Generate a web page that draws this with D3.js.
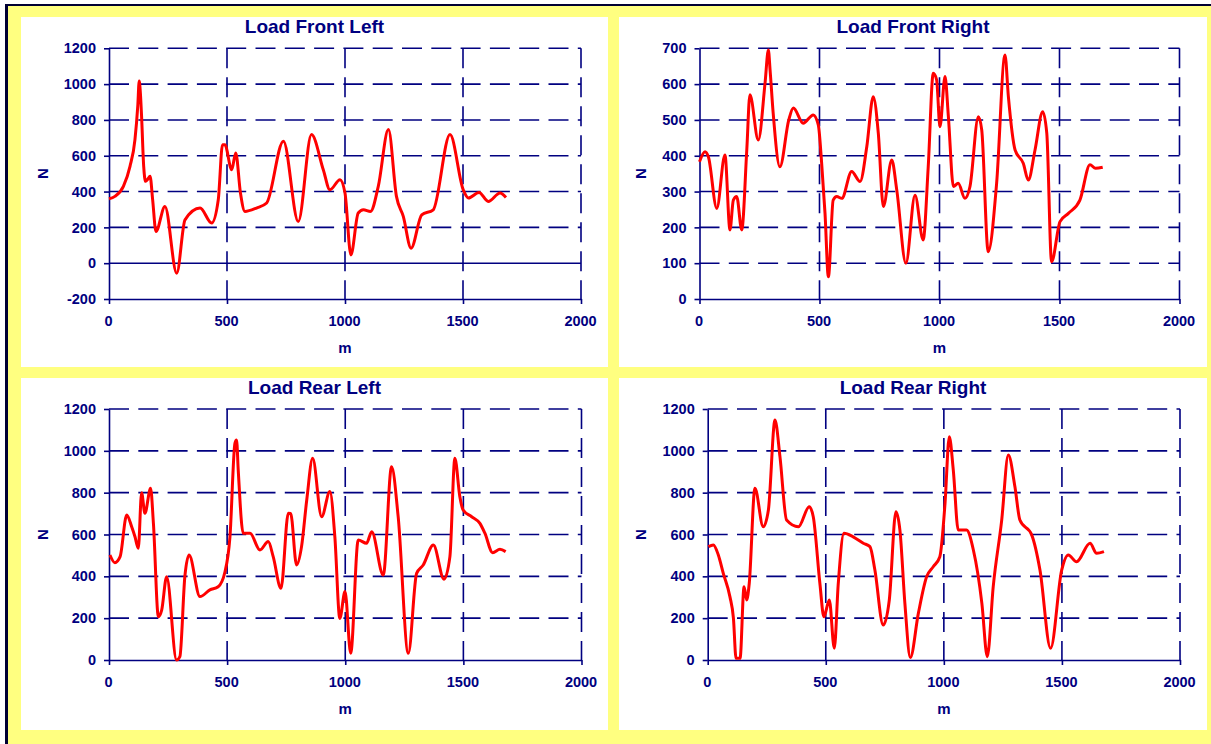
<!DOCTYPE html>
<html>
<head>
<meta charset="utf-8">
<script src="https://cdn.jsdelivr.net/npm/d3@7"></script>
<style>
  body { margin: 0; background: #ffffff; }
  text { font-family: "Liberation Sans", Arial, sans-serif; font-weight: bold; fill: #000080; }
</style>
</head>
<body>
<script>
/* ---- data (distance m, load N) ---- */
var titles = ["Load Front Left", "Load Front Right", "Load Rear Left", "Load Rear Right"];
var xTicks = [0, 500, 1000, 1500, 2000];

var frontLeftTicks = [-200, 0, 200, 400, 600, 800, 1000, 1200];
var frontRightTicks = [0, 100, 200, 300, 400, 500, 600, 700];
var rearLeftTicks = [0, 200, 400, 600, 800, 1000, 1200];
var rearRightTicks = [0, 200, 400, 600, 800, 1000, 1200];

var frontLeftDist = [0, 25, 61, 89, 110, 122, 128, 133, 138, 147, 155, 165, 174, 185, 199, 237, 287, 322, 386, 435, 463, 481, 491, 520, 537, 557, 576, 625, 668, 739, 802, 858, 908, 936, 979, 1000, 1025, 1056, 1078, 1108, 1141, 1184, 1218, 1247, 1280, 1325, 1374, 1445, 1501, 1523, 1568, 1607, 1657, 1682];
var frontLeftLoad = [360, 373, 429, 541, 690, 880, 1017, 950, 821, 541, 457, 470, 485, 354, 177, 317, -56, 242, 308, 224, 354, 662, 662, 522, 616, 392, 289, 308, 336, 681, 233, 718, 522, 410, 466, 392, 46, 280, 298, 289, 429, 746, 373, 261, 84, 270, 298, 718, 410, 364, 395, 345, 392, 367];

var frontRightDist = [0, 23, 37, 72, 106, 127, 141, 155, 176, 197, 210, 245, 273, 287, 294, 307, 335, 372, 391, 432, 474, 495, 509, 523, 537, 557, 572, 593, 634, 669, 697, 724, 745, 766, 801, 822, 860, 898, 932, 953, 974, 988, 1002, 1023, 1037, 1058, 1078, 1106, 1127, 1162, 1176, 1203, 1238, 1273, 1287, 1315, 1349, 1370, 1398, 1430, 1447, 1467, 1502, 1537, 1585, 1627, 1650, 1680];
var frontRightLoad = [383, 411, 397, 253, 402, 193, 276, 286, 193, 416, 570, 444, 602, 695, 640, 519, 369, 500, 533, 491, 514, 486, 379, 239, 62, 276, 286, 281, 356, 328, 425, 565, 463, 258, 388, 304, 100, 290, 165, 369, 630, 612, 481, 621, 509, 314, 323, 281, 314, 509, 472, 132, 323, 681, 565, 416, 379, 332, 416, 523, 463, 104, 216, 239, 276, 375, 365, 368];

var rearLeftDist = [4, 25, 47, 75, 96, 110, 124, 138, 152, 176, 188, 209, 223, 244, 286, 300, 321, 339, 385, 427, 462, 491, 512, 533, 540, 547, 568, 597, 639, 674, 695, 728, 759, 769, 794, 815, 837, 862, 900, 935, 956, 977, 999, 1023, 1055, 1090, 1112, 1161, 1196, 1224, 1267, 1302, 1330, 1373, 1418, 1443, 1464, 1485, 1499, 1535, 1570, 1591, 1624, 1655, 1679];
var rearLeftLoad = [502, 465, 494, 693, 637, 589, 534, 800, 701, 821, 653, 207, 239, 398, 0, 16, 398, 502, 303, 335, 350, 422, 589, 1036, 1052, 908, 606, 606, 526, 566, 494, 343, 701, 700, 454, 542, 765, 964, 685, 805, 589, 199, 327, 32, 574, 558, 613, 406, 924, 685, 32, 414, 454, 550, 386, 494, 964, 781, 717, 685, 653, 606, 513, 529, 518];

var rearRightDist = [3, 24, 45, 66, 94, 109, 120, 137, 154, 165, 176, 200, 235, 257, 285, 306, 334, 384, 430, 447, 475, 492, 515, 536, 553, 577, 616, 659, 687, 708, 743, 769, 797, 814, 835, 858, 892, 927, 955, 983, 1005, 1023, 1040, 1061, 1096, 1125, 1161, 1184, 1209, 1245, 1273, 1301, 1322, 1372, 1407, 1452, 1499, 1527, 1562, 1619, 1647, 1678];
var rearRightLoad = [542, 550, 502, 414, 303, 199, 8, 8, 350, 287, 367, 821, 637, 717, 1147, 972, 669, 637, 733, 685, 367, 207, 287, 56, 367, 606, 589, 558, 542, 430, 167, 287, 709, 621, 271, 12, 223, 398, 446, 494, 749, 1067, 908, 621, 621, 526, 271, 16, 350, 669, 980, 828, 669, 598, 430, 56, 430, 502, 470, 558, 510, 518];

/* ---- layout of the four chart boxes ---- */
var panels = [
  {title: titles[0], dist: frontLeftDist, load: frontLeftLoad, ticks: frontLeftTicks,
   box: {x: 21, y: 17, w: 587, h: 350}, plot: {left: 109, top: 48.3, right: 581, bottom: 299}},
  {title: titles[1], dist: frontRightDist, load: frontRightLoad, ticks: frontRightTicks,
   box: {x: 619, y: 17, w: 588, h: 350}, plot: {left: 699.5, top: 48.3, right: 1179.5, bottom: 299}},
  {title: titles[2], dist: rearLeftDist, load: rearLeftLoad, ticks: rearLeftTicks,
   box: {x: 21, y: 378, w: 587, h: 352}, plot: {left: 109, top: 409, right: 581.5, bottom: 660}},
  {title: titles[3], dist: rearRightDist, load: rearRightLoad, ticks: rearRightTicks,
   box: {x: 619, y: 378, w: 588, h: 352}, plot: {left: 707.7, top: 409, right: 1180, bottom: 660}}
];

var navy = "#000080";
var plain = function(d) { return String(d); };

var svg = d3.select("body")
    .append("svg")
    .attr("width", 1211)
    .attr("height", 744);

// yellow sheet with dark edge on the left and top
svg.append("rect")
    .attr("x", 5).attr("y", 4)
    .attr("width", 1206).attr("height", 740)
    .attr("fill", "#ffff80");
svg.append("rect")
    .attr("x", 5).attr("y", 4)
    .attr("width", 1206).attr("height", 2)
    .attr("fill", "#000033");
svg.append("rect")
    .attr("x", 5).attr("y", 4)
    .attr("width", 3).attr("height", 740)
    .attr("fill", "#000033");

panels.forEach(function(p) {

    svg.append("rect")
        .attr("x", p.box.x).attr("y", p.box.y)
        .attr("width", p.box.w).attr("height", p.box.h)
        .attr("fill", "#ffffff");

    var w = p.plot.right - p.plot.left,
        h = p.plot.bottom - p.plot.top;

    var g = svg.append("g")
        .attr("transform", "translate(" + p.plot.left + "," + p.plot.top + ")");

    var xScale = d3.scaleLinear().domain([0, 2000]).range([0, w]);
    var yScale = d3.scaleLinear().domain(d3.extent(p.ticks)).range([h, 0]);

    // gridlines: dashed, except the solid zero line
    g.append("g").selectAll("line")
        .data(p.ticks.slice(1))
        .enter().append("line")
        .attr("x1", 0).attr("x2", w)
        .attr("y1", function(d) { return yScale(d); })
        .attr("y2", function(d) { return yScale(d); })
        .attr("stroke", navy)
        .attr("stroke-width", 1.6)
        .attr("stroke-dasharray", function(d) { return d === 0 ? null : "20,9.3"; });

    g.append("g").selectAll("line")
        .data(xTicks.slice(1))
        .enter().append("line")
        .attr("x1", function(d) { return xScale(d); })
        .attr("x2", function(d) { return xScale(d); })
        .attr("y1", 0).attr("y2", h)
        .attr("stroke", navy)
        .attr("stroke-width", 1.6)
        .attr("stroke-dasharray", "20,9");

    // axes
    var yAxis = d3.axisLeft(yScale).tickValues(p.ticks).tickFormat(plain)
        .tickSize(5).tickSizeOuter(0).tickPadding(8);
    var xAxis = d3.axisBottom(xScale).tickValues(xTicks).tickFormat(plain)
        .tickSize(5).tickSizeOuter(0).tickPadding(12);

    var ya = g.append("g").call(yAxis);
    var xa = g.append("g").attr("transform", "translate(0," + h + ")").call(xAxis);

    [ya, xa].forEach(function(a) {
        a.selectAll("path, line").attr("stroke", navy).attr("stroke-width", 1.6);
        a.selectAll("text")
            .attr("fill", navy)
            .style("font-size", "14.5px")
            .style("font-family", "'Liberation Sans', Arial, sans-serif")
            .style("font-weight", "bold");
    });
    xa.selectAll("text").attr("dx", "-1");

    // axis titles
    g.append("text")
        .attr("transform", "translate(" + (p.box.x + 27 - p.plot.left) + "," + (h / 2) + ") rotate(-90)")
        .attr("text-anchor", "middle")
        .style("font-size", "15px")
        .text("N");
    g.append("text")
        .attr("x", w / 2)
        .attr("y", h + 54)
        .attr("text-anchor", "middle")
        .style("font-size", "15px")
        .text("m");

    // series line
    var pts = p.dist.map(function(d, i) { return [d, p.load[i]]; });
    var line = d3.line()
        .curve(d3.curveMonotoneX)
        .x(function(d) { return xScale(d[0]); })
        .y(function(d) { return yScale(d[1]); });

    g.append("path")
        .datum(pts)
        .attr("d", line)
        .attr("fill", "none")
        .attr("stroke", "#ff0000")
        .attr("stroke-width", 3)
        .attr("stroke-linejoin", "round");

    // chart title
    svg.append("text")
        .attr("x", p.box.x + p.box.w / 2)
        .attr("y", p.box.y + 16.3)
        .attr("text-anchor", "middle")
        .style("font-size", "19px")
        .text(p.title);
});
</script>
</body>
</html>
